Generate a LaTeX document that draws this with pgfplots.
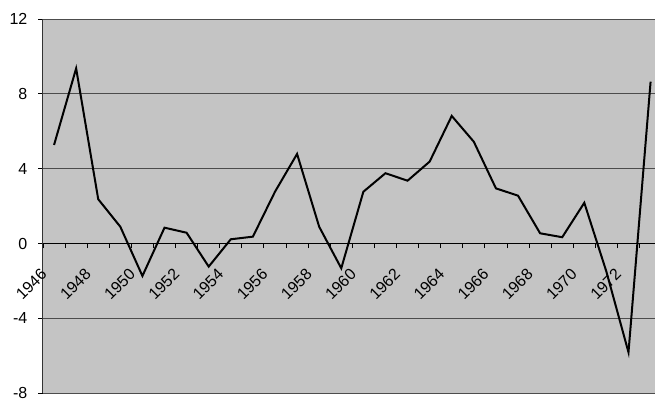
\documentclass[border=0pt]{standalone}
\usepackage{fontspec}
\setmainfont{Liberation Sans}
\usepackage{pgfplots}
\pgfplotsset{compat=1.18}
\definecolor{bg}{gray}{0.77}
\definecolor{gridc}{gray}{0.30}
\begin{document}
\begin{tikzpicture}
\path[use as bounding box] (-43pt,-8.7pt) rectangle (612pt,393.3pt);
\begin{axis}[
  at={(0pt,0pt)}, anchor=south west,
  scale only axis, width=612pt, height=374.3pt,
  xmin=-0.5, xmax=27.2, ymin=-8, ymax=12,
  axis background/.style={fill=bg},
  axis x line*=middle, axis y line*=left,
  axis line style={-},
  x axis line style={line width=1.3pt, black},
  y axis line style={line width=1pt, black!80},
  hide obscured x ticks=false,
  xtick={-0.5,1.5,...,25.5},
  xticklabels={1946,1948,1950,1952,1954,1956,1958,1960,1962,1964,1966,1968,1970,1972},
  minor xtick={0.5,2.5,...,26.5},
  ytick={-8,-4,0,4,8,12},
  yticklabels={-8,-4,0,4,8,12},
  tick align=outside,
  major tick length=4.5pt,
  minor tick length=4.5pt,
  tick style={black, line width=0.9pt},
  ymajorgrids, xmajorgrids=false, xminorgrids=false,
  grid style={gridc, line width=0.9pt},
  every tick label/.append style={font=\fontsize{16}{19}\selectfont},
  yticklabel style={inner sep=0pt, anchor=east, xshift=-11pt},
  xticklabel style={xshift=1pt, yshift=-23.5pt, rotate=45, anchor=east, inner sep=0pt},
  clip=false,
]
\addplot[black, line width=2pt, mark=none] coordinates {
(0,5.27) (1,9.36) (2,2.37) (3,0.90) (4,-1.73) (5,0.85) (6,0.58) (7,-1.23)
(8,0.23) (9,0.37) (10,2.77) (11,4.79) (12,0.90) (13,-1.32) (14,2.77) (15,3.76)
(16,3.36) (17,4.38) (18,6.82) (19,5.44) (20,2.95) (21,2.56) (22,0.55) (23,0.34)
(24,2.18) (25,-1.5) (26,-5.81) (27,8.65)
};
\end{axis}
\end{tikzpicture}
\end{document}
